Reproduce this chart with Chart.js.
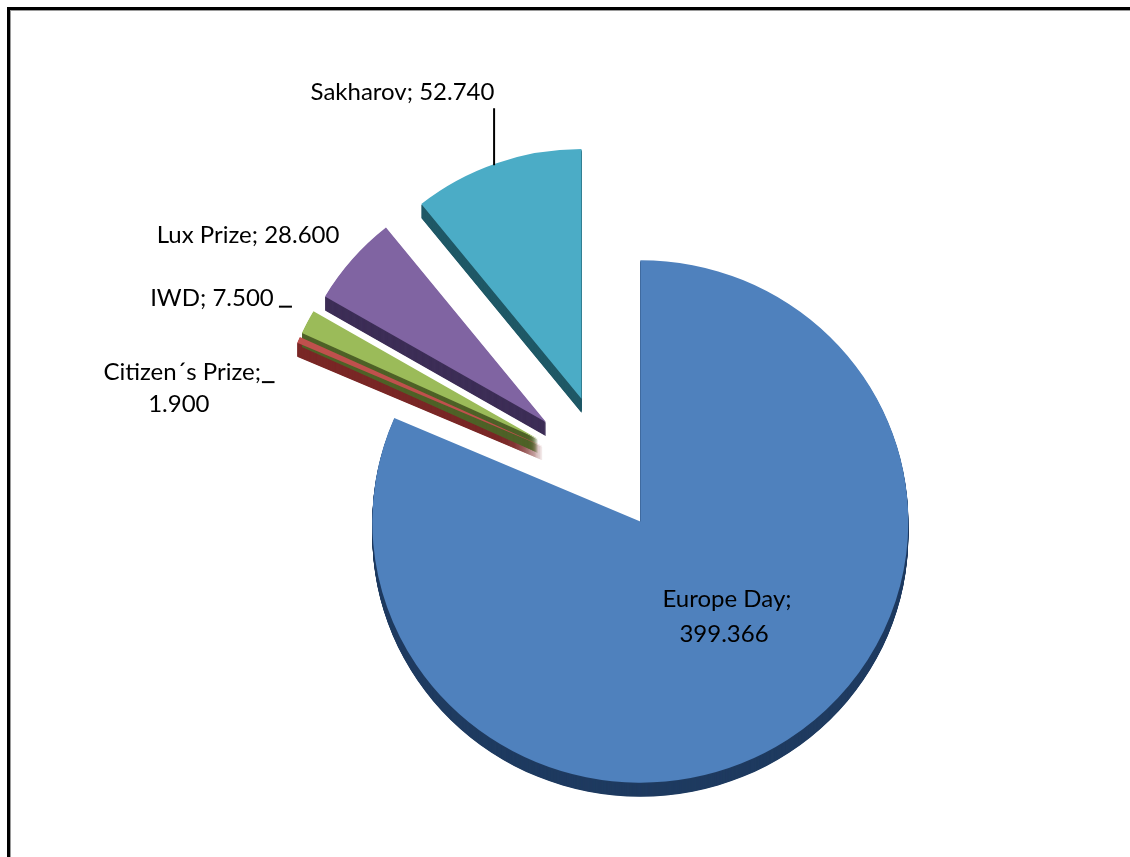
<!DOCTYPE html>
<html>
<head>
<meta charset="utf-8">
<script src="https://cdn.jsdelivr.net/npm/chart.js@4.4.1/dist/chart.umd.min.js"></script>
<style>
  html, body { margin: 0; padding: 0; background: #ffffff; }
  #wrap { position: relative; width: 1130px; height: 857px; overflow: hidden; background: #fff; }
  #c { position: absolute; left: 0; top: 0; }
  .ln { position: absolute; }
</style>
</head>
<body>
<div id="wrap">
  <canvas id="c" width="1130" height="857"></canvas>
  <div class="ln" style="left:7px;top:7px;width:1123px;height:3px;background:#000;"></div>
  <div class="ln" style="left:10px;top:10px;width:1120px;height:1px;background:#9a9a9a;"></div>
  <div class="ln" style="left:7px;top:7px;width:3px;height:850px;background:#000;"></div>
  <div class="ln" style="left:10px;top:10px;width:1px;height:847px;background:#9a9a9a;"></div>
</div>
<script>
// ---- data ----
const categories  = ['Europe Day', 'Citizen\u00B4s Prize', 'IWD', 'Lux Prize', 'Sakharov'];
const values      = [399.366, 1.900, 7.500, 28.600, 52.740];
const valueLabels = ['399.366', '1.900', '7.500', '28.600', '52.740'];

// ---- style ----
const topColors  = ['#4F81BD', '#C0504D', '#9BBB59', '#8064A2', '#4BACC6'];
const sideColors = ['#1F3B60', '#7A2826', '#4F6228', '#3D2E57', '#1F5866'];
const explode    = [57, 72, 80, 83, 83];        // explosion distance of each slice
const sliceScale = [1, 1, 0.97, 0.955, 0.955];  // perspective shrink of far slices
const TILT = 0.975;                              // vertical squash of the 3-D view
const DEPTH = 14;                                // thickness of the pie
const FONT = '24px Lato';

// label layout: anchor 0 = slice apex, 1 = middle of outer arc; offsets in px
const labelSpec = [
  { anchor: 0, lines: [[categories[0] + ';', 86.7, 85.6], [valueLabels[0], 83.7, 120.6]] },
  { anchor: 1, lines: [[categories[1] + ';', -116.3, 39.7], [valueLabels[1], -119.7, 71.7]], tick: [-36.6, -24.0, 42.2] },
  { anchor: 1, lines: [[categories[2] + '; ' + valueLabels[2], -95.5, -15.8]], tick: [-28.5, -15.5, -15.3] },
  { anchor: 1, lines: [[categories[3] + '; ' + valueLabels[3], -104.2, -15.8]] },
  { anchor: 1, lines: [[categories[4] + '; ' + valueLabels[4], -94.1, -63.2]], leader: [-2.5, 2, -55] }
];

function geom(chart, arc, i) {
  const meta = chart.getDatasetMeta(0);
  const cx = meta.data[0].x, cy = meta.data[0].y;
  const mid = (arc.startAngle + arc.endAngle) / 2;
  const dx = Math.cos(mid) * explode[i];
  const dy = Math.sin(mid) * explode[i];
  const r = arc.outerRadius * sliceScale[i];
  const sx = arc.x + dx, sy = cy + TILT * (arc.y + dy - cy);
  const ox = sx + Math.cos(mid) * r;
  const oy = sy + TILT * Math.sin(mid) * r;
  return { mid, dx, dy, r, apex: [sx, sy], outer: [ox, oy] };
}

const pie3d = {
  id: 'pie3d',
  beforeDatasetDraw(chart, args) {
    const ctx = chart.ctx;
    const arcs = args.meta.data;
    const cx = arcs[0].x, cy = arcs[0].y;
    ctx.save();
    ctx.translate(cx, cy);
    ctx.scale(1, TILT);
    ctx.translate(-cx, -cy);
    // side walls
    arcs.forEach((arc, i) => {
      const g = geom(chart, arc, i);
      ctx.fillStyle = sideColors[i];
      for (let d = DEPTH; d >= 1; d -= 0.5) {
        const x = arc.x + g.dx, y = arc.y + g.dy + d / TILT;
        ctx.beginPath();
        ctx.moveTo(x, y);
        ctx.arc(x, y, g.r, arc.startAngle, arc.endAngle);
        ctx.closePath();
        ctx.fill();
      }
    });
    // top faces, drawn by the library's arc elements
    arcs.forEach((arc, i) => {
      const g = geom(chart, arc, i);
      const k = sliceScale[i];
      ctx.save();
      ctx.translate(arc.x + g.dx, arc.y + g.dy);
      ctx.scale(k, k);
      ctx.translate(-arc.x, -arc.y);
      arc.draw(ctx);
      ctx.restore();
    });
    ctx.restore();
    return false;
  },
  afterDraw(chart) {
    const ctx = chart.ctx;
    const arcs = chart.getDatasetMeta(0).data;
    ctx.save();
    ctx.font = FONT;
    ctx.fillStyle = '#000';
    ctx.strokeStyle = '#000';
    ctx.textAlign = 'center';
    ctx.textBaseline = 'alphabetic';
    labelSpec.forEach((spec, i) => {
      const g = geom(chart, arcs[i], i);
      const a = spec.anchor === 0 ? g.apex : g.outer;
      spec.lines.forEach(([t, ox, oy]) => ctx.fillText(t, a[0] + ox, a[1] + oy));
      if (spec.tick) {
        ctx.lineWidth = 2;
        ctx.beginPath();
        ctx.moveTo(a[0] + spec.tick[0], a[1] + spec.tick[2]);
        ctx.lineTo(a[0] + spec.tick[1], a[1] + spec.tick[2]);
        ctx.stroke();
      }
      if (spec.leader) {
        ctx.lineWidth = 2;
        ctx.beginPath();
        ctx.moveTo(a[0] + spec.leader[0], a[1] + spec.leader[1]);
        ctx.lineTo(a[0] + spec.leader[0], a[1] + spec.leader[2]);
        ctx.stroke();
      }
    });
    ctx.restore();
  }
};

new Chart(document.getElementById('c'), {
  type: 'pie',
  data: {
    labels: categories,
    datasets: [{
      data: values,
      backgroundColor: topColors,
      borderWidth: 0
    }]
  },
  options: {
    responsive: false,
    devicePixelRatio: 1,
    animation: false,
    events: [],
    radius: 268,
    rotation: 0,
    layout: { padding: { left: 88, top: 93, right: 0, bottom: 0 } },
    plugins: { legend: { display: false }, tooltip: { enabled: false }, title: { display: false } }
  },
  plugins: [pie3d]
});
</script>
</body>
</html>
